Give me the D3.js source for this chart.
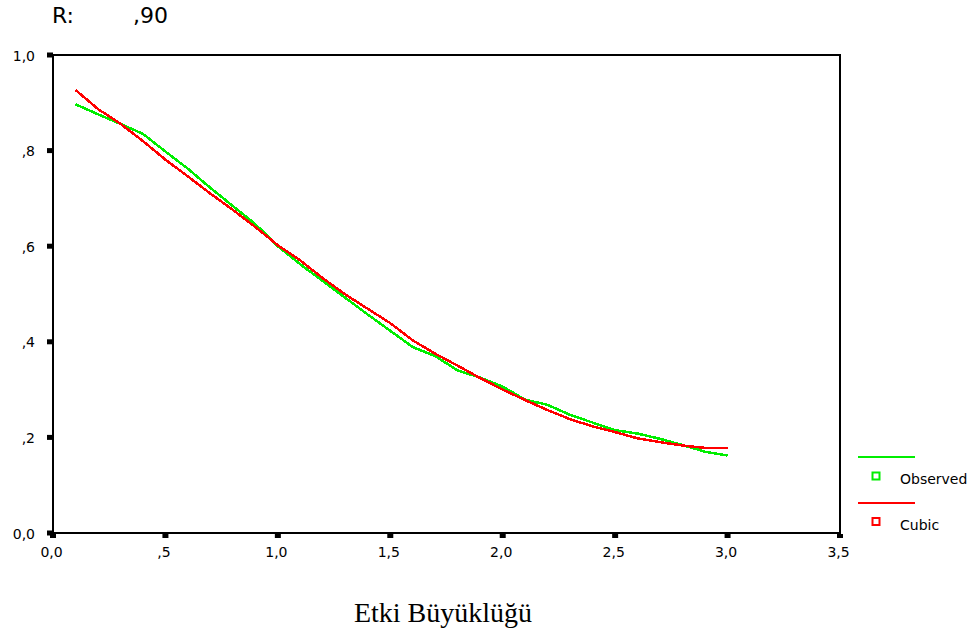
<!DOCTYPE html>
<html>
<head>
<meta charset="utf-8">
<script src="https://cdn.jsdelivr.net/npm/d3@7"></script>
<style>
  html, body { margin: 0; padding: 0; background: #fff; }
  svg { display: block; }
  .tick-label { font-family: "DejaVu Sans", sans-serif; font-size: 14px; fill: #000; }
</style>
</head>
<body>
<svg id="chart" width="979" height="636"></svg>
<script>
// Effect size values (x) with observed proportions and the cubic fit
const effectSize = [0.1, 0.2, 0.3, 0.4, 0.5, 0.6, 0.7, 0.8, 0.9, 1.0,
                    1.1, 1.2, 1.3, 1.4, 1.5, 1.6, 1.7, 1.8, 1.9, 2.0,
                    2.1, 2.2, 2.3, 2.4, 2.5, 2.6, 2.7, 2.8, 2.9, 3.0];
const observed = [0.897, 0.876, 0.856, 0.835, 0.798, 0.762, 0.722, 0.684, 0.646, 0.600,
                  0.562, 0.527, 0.492, 0.457, 0.423, 0.389, 0.370, 0.340, 0.325, 0.306,
                  0.279, 0.268, 0.247, 0.231, 0.215, 0.208, 0.197, 0.184, 0.170, 0.162];
const cubic = [0.927, 0.887, 0.856, 0.820, 0.781, 0.746, 0.710, 0.676, 0.640, 0.602,
               0.570, 0.533, 0.499, 0.469, 0.439, 0.403, 0.375, 0.350, 0.324, 0.300,
               0.278, 0.257, 0.238, 0.223, 0.211, 0.198, 0.190, 0.183, 0.178, 0.178];

const xTicks = [0, 0.5, 1.0, 1.5, 2.0, 2.5, 3.0, 3.5];
const xTickLabels = ["0,0", ",5", "1,0", "1,5", "2,0", "2,5", "3,0", "3,5"];
const yTicks = [0, 0.2, 0.4, 0.6, 0.8, 1.0];
const yTickLabels = ["0,0", ",2", ",4", ",6", ",8", "1,0"];

const seriesNames = ["Observed", "Cubic"];
const seriesColors = ["#00ee00", "#ff0000"];

const svg = d3.select("#chart");

const x = d3.scaleLinear().domain([0, 3.5]).range([53, 840]);
const y = d3.scaleLinear().domain([0, 1]).range([533, 55]);

// Header: fit statistic
const header = svg.append("g")
  .attr("font-family", "'DejaVu Sans', sans-serif")
  .attr("font-size", 22);
header.append("text").attr("x", 52).attr("y", 23).text("R:");
header.append("text").attr("x", 133).attr("y", 23).text(",90");

// Axes (labels only; tick marks are drawn as small squares below)
const xAxis = d3.axisBottom(x)
  .tickValues(xTicks)
  .tickSize(0)
  .tickPadding(0)
  .tickFormat((d, i) => xTickLabels[i]);
const gx = svg.append("g").attr("transform", "translate(-2,0)").call(xAxis);
gx.select(".domain").remove();
gx.selectAll("text")
  .attr("class", "tick-label")
  .attr("y", 557).attr("dy", 0)
  .attr("font-family", null).attr("font-size", null);

const yAxis = d3.axisLeft(y)
  .tickValues(yTicks)
  .tickSize(0)
  .tickPadding(0)
  .tickFormat((d, i) => yTickLabels[i]);
const gy = svg.append("g").call(yAxis);
gy.select(".domain").remove();
gy.selectAll("text")
  .attr("class", "tick-label")
  .attr("x", 35).attr("dy", "0.36em")
  .attr("font-family", null).attr("font-size", null);

// Plot frame
svg.append("rect")
  .attr("x", x(0) - 0.5)
  .attr("y", y(1))
  .attr("width", x(3.5) - x(0) + 0.5)
  .attr("height", y(0) - y(1))
  .attr("fill", "none")
  .attr("stroke", "#000")
  .attr("stroke-width", 2)
  .attr("shape-rendering", "crispEdges");

// Square tick marks on the axes
svg.append("g").selectAll("rect")
  .data(yTicks)
  .join("rect")
  .attr("x", x(0) - 6)
  .attr("y", d => y(d) - 2.5)
  .attr("width", 6)
  .attr("height", 5)
  .attr("fill", "#000");

svg.append("g").selectAll("rect")
  .data(xTicks)
  .join("rect")
  .attr("x", d => x(d) - 3)
  .attr("y", y(0) + 1)
  .attr("width", 6)
  .attr("height", 4)
  .attr("fill", "#000");

// Curves, drawn without anti-aliasing
const line = d3.line()
  .x((d, i) => x(effectSize[i]))
  .y(d => y(d));

[observed, cubic].forEach((vals, k) => {
  svg.append("path")
    .datum(vals)
    .attr("d", line)
    .attr("fill", "none")
    .attr("stroke", seriesColors[k])
    .attr("stroke-width", 2.5)
    .attr("stroke-linejoin", "round")
    .attr("shape-rendering", "crispEdges");
});

// Legend
const legend = svg.append("g");
seriesNames.forEach((name, k) => {
  const top = 457 + k * 45.5;
  legend.append("line")
    .attr("x1", 858).attr("x2", 915)
    .attr("y1", top).attr("y2", top)
    .attr("stroke", seriesColors[k])
    .attr("stroke-width", 2)
    .attr("shape-rendering", "crispEdges");
  legend.append("rect")
    .attr("x", 872.5).attr("y", top + 15.5)
    .attr("width", 7).attr("height", 7)
    .attr("fill", "none")
    .attr("stroke", seriesColors[k])
    .attr("stroke-width", 2);
  legend.append("text")
    .attr("class", "tick-label")
    .attr("x", 900).attr("y", top + 27)
    .text(name);
});

// X axis title
svg.append("text")
  .attr("x", 443)
  .attr("y", 622)
  .attr("text-anchor", "middle")
  .attr("font-family", "'Liberation Serif', 'Times New Roman', serif")
  .attr("font-size", 28)
  .text("Etki Büyüklüğü");
</script>
</body>
</html>
